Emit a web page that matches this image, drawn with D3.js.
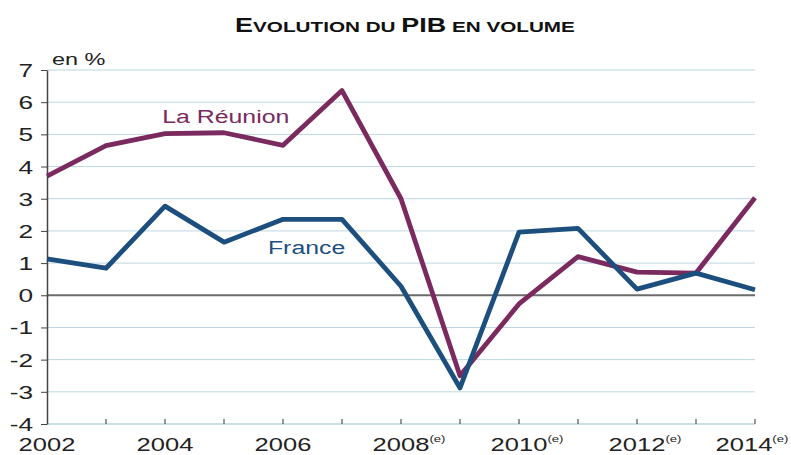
<!DOCTYPE html>
<html>
  <head>
    <meta charset="utf-8">
    <style>
      body { margin: 0; padding: 0; background: #fff; font-family: 'Liberation Sans', Arial, sans-serif; }
    </style>
  </head>
  <body>
    <div id="chart"></div>
    <script src="https://d3js.org/d3.v7.min.js"></script>
    <script>
      var years = [2002, 2003, 2004, 2005, 2006, 2007, 2008, 2009, 2010, 2011, 2012, 2013, 2014];
      var reunion = [3.7, 4.65, 5.02, 5.05, 4.66, 6.36, 3.0, -2.5, -0.27, 1.2, 0.72, 0.69, 3.03];
      var france = [1.13, 0.84, 2.77, 1.65, 2.36, 2.36, 0.28, -2.88, 1.96, 2.08, 0.19, 0.69, 0.17];
      var yTicks = [-4, -3, -2, -1, 0, 1, 2, 3, 4, 5, 6, 7];
      var xLabelYears = [2002, 2004, 2006, 2008, 2010, 2012, 2014];
      var estimated = [2008, 2010, 2012, 2014];

      var W = 791, H = 455;
      var margin = {top: 70, right: 36, bottom: 31, left: 47};
      var width = W - margin.left - margin.right,
          height = H - margin.top - margin.bottom;
      var sx = 1.38; // the source picture has horizontally stretched lettering

      var svg = d3.select("#chart").append("svg")
          .attr("width", W)
          .attr("height", H);

      function place(sel, px, py) {
        return sel.attr("transform", "translate(" + px + "," + py + ") scale(" + sx + ",1)");
      }

      // title with small caps
      var title = place(svg.append("text"), 405, 32)
          .attr("text-anchor", "middle")
          .attr("font-weight", "bold")
          .attr("fill", "#111");
      [["E", 19.5], ["VOLUTION DU ", 15], ["PIB", 19.5], [" EN VOLUME", 15]].forEach(function (p) {
        title.append("tspan").attr("font-size", p[1] + "px").text(p[0]);
      });

      var g = svg.append("g")
          .attr("transform", "translate(" + margin.left + "," + margin.top + ")");

      var x = d3.scaleLinear().domain([2002, 2014]).range([0, width]);
      var y = d3.scaleLinear().domain([-4, 7]).range([height, 0]);

      // gridlines
      g.append("g")
        .selectAll("line")
        .data(yTicks.filter(d => d !== 0 && d !== -4))
        .enter().append("line")
          .attr("x1", 0).attr("x2", width)
          .attr("y1", d => y(d)).attr("y2", d => y(d))
          .attr("stroke", "#bcd6e2")
          .attr("stroke-width", 1);

      // bottom axis line
      g.append("line")
        .attr("x1", 0).attr("x2", width)
        .attr("y1", height).attr("y2", height)
        .attr("stroke", "#8fc3c9")
        .attr("stroke-width", 1.2);

      // x ticks (pointing up)
      g.append("g")
        .selectAll("line")
        .data(years.slice(1))
        .enter().append("line")
          .attr("x1", d => x(d)).attr("x2", d => x(d))
          .attr("y1", height).attr("y2", height - 5)
          .attr("stroke", "#333")
          .attr("stroke-width", 1);

      // zero line
      g.append("line")
        .attr("x1", 0).attr("x2", width)
        .attr("y1", y(0)).attr("y2", y(0))
        .attr("stroke", "#6b6b6b")
        .attr("stroke-width", 2);

      // y axis
      var yAxis = g.append("g")
        .call(d3.axisLeft(y).tickValues(yTicks).tickSize(6).tickSizeOuter(0).tickFormat(""));
      yAxis.select(".domain").attr("stroke", "#444").attr("stroke-width", 1.5);
      yAxis.selectAll(".tick line").attr("stroke", "#444");

      g.append("g")
        .selectAll("text")
        .data(yTicks)
        .enter().append("text")
          .attr("transform", d => "translate(-14," + (y(d) + 7) + ") scale(" + sx + ",1)")
          .attr("text-anchor", "end")
          .attr("font-size", "19px")
          .attr("fill", "#222")
          .text(d => String(d));

      place(g.append("text"), 5, -5)
        .attr("font-size", "17px")
        .attr("fill", "#222")
        .text("en %");

      // x labels
      var xl = g.append("g")
        .selectAll("text")
        .data(xLabelYears)
        .enter().append("text")
          .attr("transform", d => "translate(" + x(d) + "," + (height + 27) + ") scale(" + sx + ",1)")
          .attr("font-size", "18.5px")
          .attr("fill", "#222");
      xl.append("tspan").text(d => d);
      xl.filter(d => estimated.indexOf(d) >= 0)
        .append("tspan")
          .attr("font-size", "9.5px")
          .attr("dy", -9)
          .text("(e)");
      // center numbers on ticks
      xl.each(function (d) {
        var w = d3.select(this).select("tspan").node().getComputedTextLength();
        d3.select(this).attr("x", -w / 2 - (d === 2014 ? 8 : 0));
      });

      var line = d3.line()
        .x((d, i) => x(years[i]))
        .y(d => y(d));

      g.append("path")
        .datum(reunion)
        .attr("fill", "none")
        .attr("stroke", "#7a2a5e")
        .attr("stroke-width", 4.8)
        .attr("stroke-linejoin", "round")
        .attr("d", line);

      g.append("path")
        .datum(france)
        .attr("fill", "none")
        .attr("stroke", "#1c4f7e")
        .attr("stroke-width", 4.8)
        .attr("stroke-linejoin", "round")
        .attr("d", line);

      place(g.append("text"), x(2005.03), y(5.35))
        .attr("text-anchor", "middle")
        .attr("font-size", "18px")
        .attr("fill", "#7a2a5e")
        .text("La Réunion");

      place(g.append("text"), x(2006.4), y(1.27))
        .attr("text-anchor", "middle")
        .attr("font-size", "18px")
        .attr("fill", "#1c4f7e")
        .text("France");
    </script>
  </body>
</html>
